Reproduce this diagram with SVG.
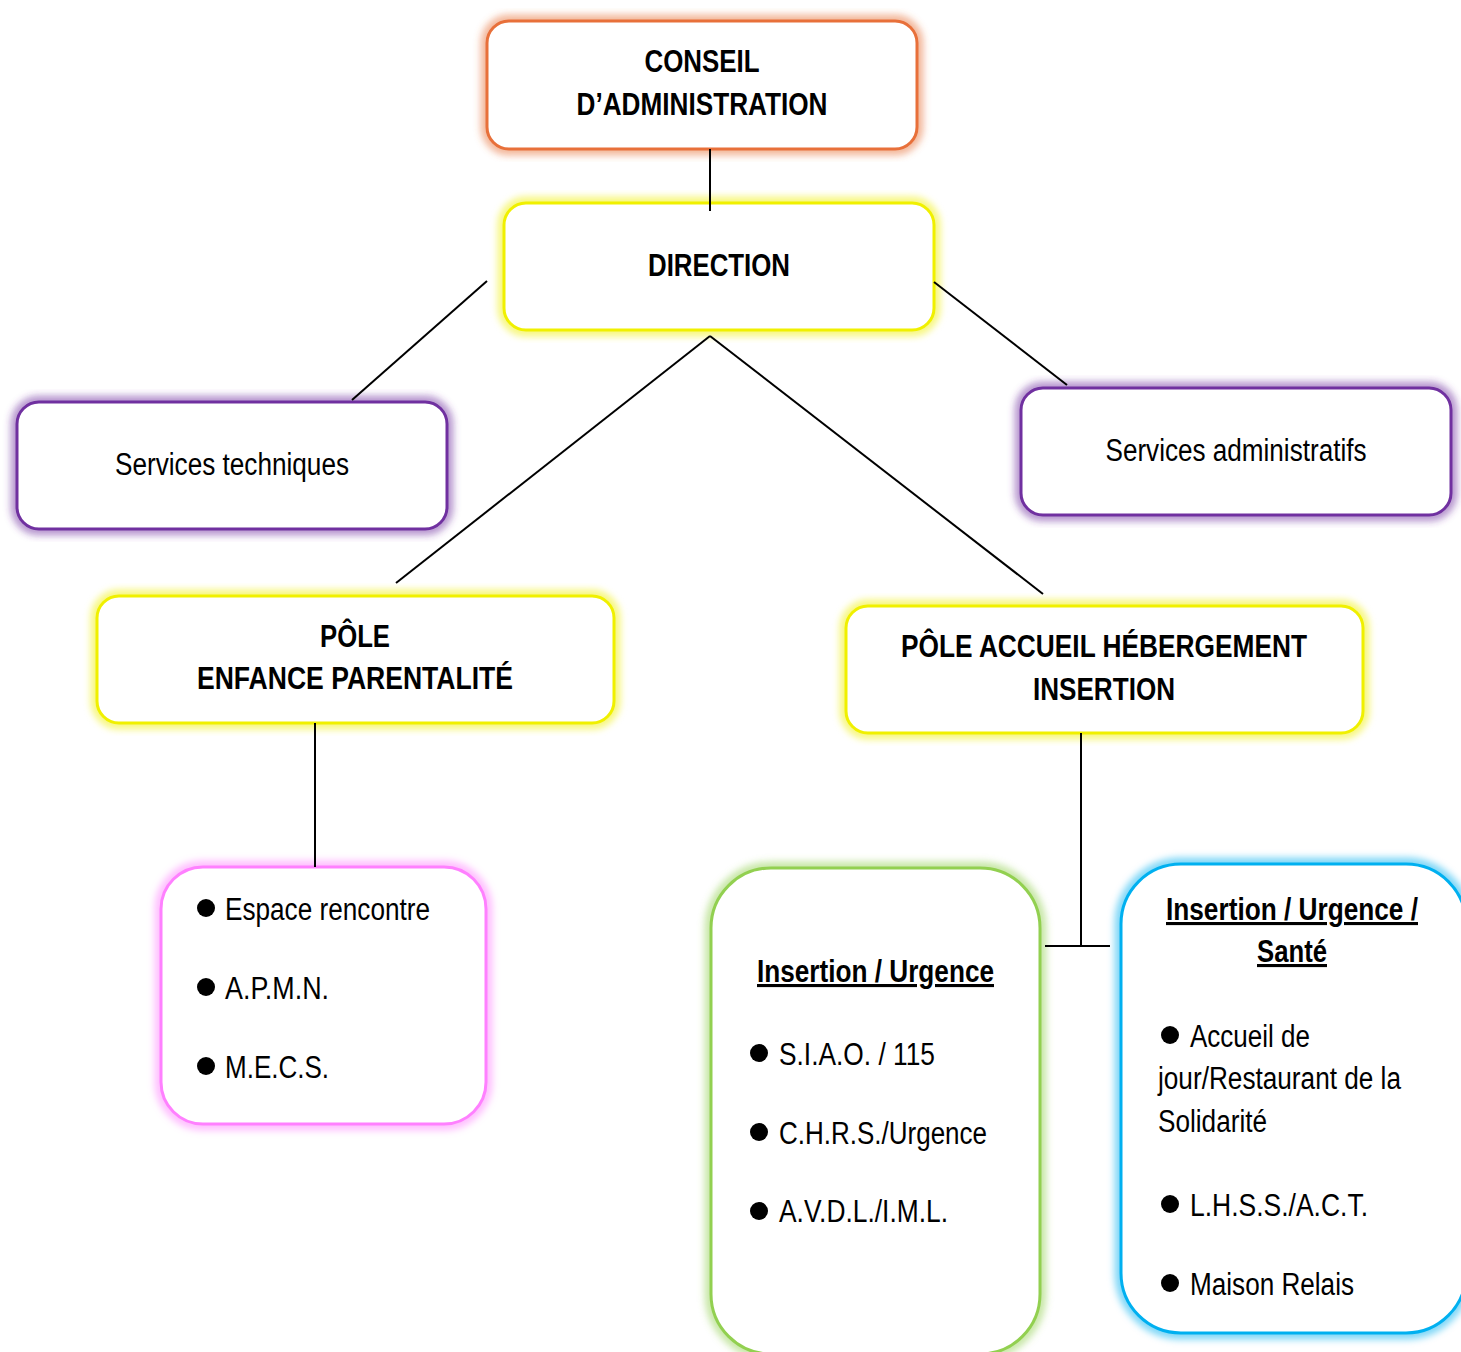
<svg xmlns="http://www.w3.org/2000/svg" width="1461" height="1352" viewBox="0 0 1461 1352">
<defs>
<filter id="blur" x="-10%" y="-10%" width="120%" height="120%"><feGaussianBlur stdDeviation="3.5"/></filter>
<style>
text{font-family:"Liberation Sans Narrow","Liberation Sans",Arial,sans-serif;fill:#000;}
.b{font-weight:bold;font-size:31px;}
.r{font-size:31px;}
.u{text-decoration:underline;}
.halo{fill:none;stroke-width:13;stroke-opacity:0.5;filter:url(#blur);}
.box{fill:#fff;stroke-width:3;}
.orange{stroke:#E8703A;}
.yellow{stroke:#F0F000;}
.purple{stroke:#7030A0;}
.pink{stroke:#FF80FF;}
.green{stroke:#92D050;}
.blue{stroke:#00B0F0;}
.conn line{stroke:#000;stroke-width:2;}
.dot{fill:#000;}
</style>
</defs>
<rect width="1461" height="1352" fill="#fff"/>
<g id="conseil">
<rect class="halo orange" x="487" y="21" width="430" height="128" rx="22"/>
<rect class="box orange" x="487" y="21" width="430" height="128" rx="22"/>
<text class="b" x="702" y="72" text-anchor="middle" textLength="115" lengthAdjust="spacingAndGlyphs">CONSEIL</text>
<text class="b" x="702" y="115" text-anchor="middle" textLength="251" lengthAdjust="spacingAndGlyphs">D’ADMINISTRATION</text>
</g>
<g id="direction">
<rect class="halo yellow" x="504" y="203" width="430" height="127" rx="22"/>
<rect class="box yellow" x="504" y="203" width="430" height="127" rx="22"/>
<text class="b" x="719" y="276" text-anchor="middle" textLength="142" lengthAdjust="spacingAndGlyphs">DIRECTION</text>
</g>
<g id="services-techniques">
<rect class="halo purple" x="17" y="402" width="430" height="127" rx="22"/>
<rect class="box purple" x="17" y="402" width="430" height="127" rx="22"/>
<text class="r" x="232" y="475" text-anchor="middle" textLength="234" lengthAdjust="spacingAndGlyphs">Services techniques</text>
</g>
<g id="services-administratifs">
<rect class="halo purple" x="1021" y="388" width="430" height="127" rx="22"/>
<rect class="box purple" x="1021" y="388" width="430" height="127" rx="22"/>
<text class="r" x="1236" y="461" text-anchor="middle" textLength="261" lengthAdjust="spacingAndGlyphs">Services administratifs</text>
</g>
<g id="pole-enfance">
<rect class="halo yellow" x="97" y="596" width="517" height="127" rx="22"/>
<rect class="box yellow" x="97" y="596" width="517" height="127" rx="22"/>
<text class="b" x="355" y="647" text-anchor="middle" textLength="70" lengthAdjust="spacingAndGlyphs">PÔLE</text>
<text class="b" x="355" y="689" text-anchor="middle" textLength="316" lengthAdjust="spacingAndGlyphs">ENFANCE PARENTALITÉ</text>
</g>
<g id="pole-accueil">
<rect class="halo yellow" x="846" y="606" width="517" height="127" rx="22"/>
<rect class="box yellow" x="846" y="606" width="517" height="127" rx="22"/>
<text class="b" x="1104" y="657" text-anchor="middle" textLength="406" lengthAdjust="spacingAndGlyphs">PÔLE ACCUEIL HÉBERGEMENT</text>
<text class="b" x="1104" y="700" text-anchor="middle" textLength="142" lengthAdjust="spacingAndGlyphs">INSERTION</text>
</g>
<g id="enfance-services">
<rect class="halo pink" x="161" y="867" width="325" height="257" rx="42"/>
<rect class="box pink" x="161" y="867" width="325" height="257" rx="42"/>
<circle class="dot" cx="206" cy="908" r="9"/>
<text class="r" x="225" y="920" textLength="205" lengthAdjust="spacingAndGlyphs">Espace rencontre</text>
<circle class="dot" cx="206" cy="987" r="9"/>
<text class="r" x="225" y="999" textLength="104" lengthAdjust="spacingAndGlyphs">A.P.M.N.</text>
<circle class="dot" cx="206" cy="1066" r="9"/>
<text class="r" x="225" y="1078" textLength="104" lengthAdjust="spacingAndGlyphs">M.E.C.S.</text>
</g>
<g id="insertion-urgence">
<rect class="halo green" x="711" y="868" width="329" height="486" rx="60"/>
<rect class="box green" x="711" y="868" width="329" height="486" rx="60"/>
<text class="b u" x="757" y="982" textLength="237" lengthAdjust="spacingAndGlyphs">Insertion / Urgence</text>
<circle class="dot" cx="759" cy="1053" r="9"/>
<text class="r" x="779" y="1065" textLength="156" lengthAdjust="spacingAndGlyphs">S.I.A.O. / 115</text>
<circle class="dot" cx="759" cy="1132" r="9"/>
<text class="r" x="779" y="1144" textLength="208" lengthAdjust="spacingAndGlyphs">C.H.R.S./Urgence</text>
<circle class="dot" cx="759" cy="1211" r="9"/>
<text class="r" x="779" y="1222" textLength="169" lengthAdjust="spacingAndGlyphs">A.V.D.L./I.M.L.</text>
</g>
<g id="insertion-urgence-sante">
<rect class="halo blue" x="1121" y="864" width="345" height="469" rx="60"/>
<rect class="box blue" x="1121" y="864" width="345" height="469" rx="60"/>
<text class="b u" x="1166" y="920" textLength="252" lengthAdjust="spacingAndGlyphs">Insertion / Urgence /</text>
<text class="b u" x="1292" y="962" text-anchor="middle" textLength="70" lengthAdjust="spacingAndGlyphs">Santé</text>
<circle class="dot" cx="1170" cy="1035" r="9"/>
<text class="r" x="1190" y="1047" textLength="120" lengthAdjust="spacingAndGlyphs">Accueil de</text>
<text class="r" x="1158" y="1089" textLength="243" lengthAdjust="spacingAndGlyphs">jour/Restaurant de la</text>
<text class="r" x="1158" y="1132" textLength="109" lengthAdjust="spacingAndGlyphs">Solidarité</text>
<circle class="dot" cx="1170" cy="1204" r="9"/>
<text class="r" x="1190" y="1216" textLength="178" lengthAdjust="spacingAndGlyphs">L.H.S.S./A.C.T.</text>
<circle class="dot" cx="1170" cy="1283" r="9"/>
<text class="r" x="1190" y="1295" textLength="164" lengthAdjust="spacingAndGlyphs">Maison Relais</text>
</g>
<g class="conn">
<line x1="710" y1="149" x2="710" y2="211"/>
<line x1="487" y1="281" x2="352" y2="400"/>
<line x1="934" y1="282" x2="1067" y2="385"/>
<line x1="710" y1="336" x2="396" y2="583"/>
<line x1="710" y1="336" x2="1043" y2="594"/>
<line x1="315" y1="723" x2="315" y2="867"/>
<line x1="1081" y1="733" x2="1081" y2="946"/>
<line x1="1045" y1="946" x2="1110" y2="946"/>
</g>
</svg>
